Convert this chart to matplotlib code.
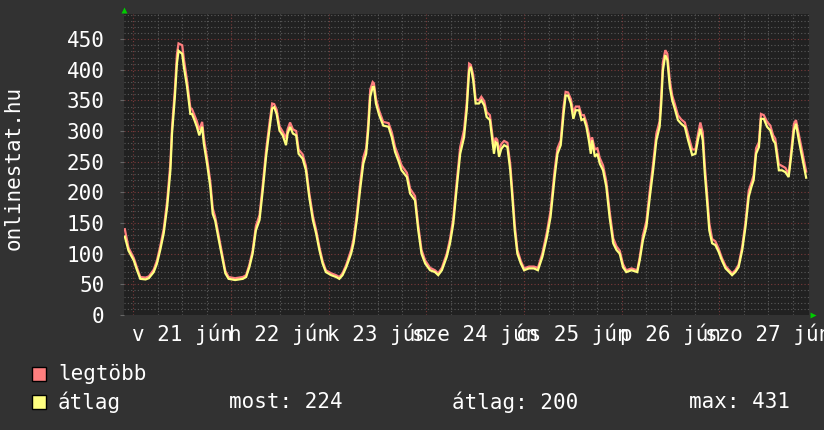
"""
Weekly visitor graph (rrdtool style) for onlinestat.hu.
"""

import matplotlib
matplotlib.use("Agg")
import matplotlib.pyplot as plt
from matplotlib.patches import Rectangle

# hours since 21 jún 00:00
hours = [
    -2.1, -1.2, 0.1, 0.9, 1.7, 3.0, 3.8, 5.0, 5.8, 6.6, 7.45, 8.3, 9.1, 9.5, 10.2, 10.7,
    11.1, 12.0, 12.4, 13.2, 14.0, 14.4, 15.0, 15.6, 16.2, 16.9, 17.3, 18.1, 18.9, 19.5,
    20.1, 21.0, 21.8, 22.6, 23.4, 25.0, 26.9, 27.7, 28.5, 29.3, 30.1, 31.0, 31.8, 32.6,
    33.4, 34.1, 34.6, 35.2, 35.9, 36.7, 37.5, 37.9, 38.5, 39.2, 40.0, 40.6, 41.6, 42.4,
    43.2, 44.1, 44.9, 45.7, 46.5, 47.3, 48.6, 49.8, 50.6, 51.4, 52.3, 53.5, 54.1, 54.9,
    55.7, 56.5, 57.2, 57.7, 58.2, 58.8, 59.1, 59.6, 60.4, 61.4, 62.7, 63.5, 64.3, 65.1,
    65.9, 67.2, 68.0, 69.2, 70.0, 70.8, 71.7, 72.9, 74.1, 74.9, 75.8, 77.0, 77.8, 78.6,
    79.4, 80.3, 81.25, 81.9, 82.5, 82.9, 83.5, 84.1, 84.9, 85.5, 86.2, 86.8, 87.6, 88.2,
    88.6, 89.0, 89.4, 89.85, 90.4, 91.1, 91.9, 92.6, 93.1, 93.7, 94.35, 95.2, 96.0, 97.2,
    98.4, 99.4, 100.5, 101.6, 102.5, 103.5, 104.2, 105.0, 105.7, 106.2, 106.8, 107.5,
    108.1, 108.7, 109.5, 110.1, 110.7, 111.3, 111.9, 112.4, 112.7, 113.4, 114.0, 114.6,
    115.4, 116.2, 117.0, 117.9, 118.7, 119.5, 120.3, 121.1, 122.4, 123.8, 124.4, 125.2,
    126.05, 126.9, 127.7, 128.5, 129.3, 129.7, 130.1, 130.7, 131.2, 131.8, 132.4, 133.0,
    133.8, 134.6, 135.5, 136.3, 137.3, 138.1, 138.7, 139.3, 139.9, 140.4, 141.0, 141.5,
    142.2, 143.0, 143.8, 144.6, 145.5, 146.4, 147.1, 147.9, 148.7, 149.6, 150.4, 151.2,
    151.85, 152.4, 153.0, 153.7, 154.2, 154.9, 155.7, 156.5, 157.2, 157.7, 158.6, 159.4,
    160.2, 161.0, 161.6, 162.3, 162.8, 163.5, 164.3, 165.3,
]

atlag = [
    128, 105, 89, 73, 59, 58, 60, 70, 84, 106, 133, 176, 236, 296, 356, 410,
    431, 426, 405, 372, 328, 328, 318, 307, 293, 307, 280, 247, 209, 165,
    154, 122, 95, 68, 59, 57, 59, 62, 78, 100, 138, 155, 204, 258,
    301, 337, 339, 328, 301, 293, 277, 296, 307, 296, 293, 263, 255, 236,
    193, 155, 133, 106, 84, 70, 65, 62, 59, 65, 78, 100, 117, 155,
    204, 247, 263, 301, 356, 372, 372, 345, 326, 309, 307, 290, 266, 252,
    236, 225, 198, 187, 138, 100, 84, 73, 70, 65, 73, 95, 117, 149,
    204, 263, 290, 334, 399, 405, 383, 345, 345, 350, 342, 323, 318, 285,
    263, 282, 280, 258, 271, 277, 274, 236, 193, 138, 100, 84, 73, 76,
    76, 73, 95, 127, 160, 225, 263, 277, 328, 358, 358, 345,
    320, 334, 334, 318, 320, 307, 285, 263, 285, 258, 263, 247,
    236, 209, 160, 117, 106, 100, 78, 70, 73, 70, 89, 122,
    144, 193, 236, 285, 307, 345, 399, 424, 416, 372, 350, 337,
    318, 312, 307, 285, 261, 263, 285, 304, 285, 231, 182, 138,
    117, 114, 103, 89, 76, 70, 65, 70, 78, 106, 144, 193,
    209, 220, 263, 274, 320, 320, 307, 301, 285, 280, 236, 236,
    233, 225, 258, 301, 312, 285, 258, 224,
]

legtobb = [
    140, 110, 93, 77, 62, 61, 63, 74, 89, 112, 140, 186, 248, 306, 368, 425,
    443, 440, 418, 382, 338, 336, 326, 316, 302, 315, 290, 256, 218, 174,
    160, 128, 100, 72, 62, 60, 62, 65, 82, 105, 145, 163, 213, 268,
    311, 345, 344, 335, 308, 299, 288, 303, 314, 303, 300, 270, 262, 243,
    200, 162, 139, 111, 88, 73, 68, 65, 62, 68, 82, 106, 124, 164,
    214, 257, 272, 312, 368, 380, 378, 353, 333, 315, 313, 298, 274, 260,
    244, 232, 206, 194, 146, 106, 89, 77, 73, 68, 77, 100, 124, 158,
    214, 274, 302, 346, 410, 408, 392, 352, 350, 356, 349, 331, 326, 294,
    275, 289, 286, 268, 279, 284, 281, 246, 203, 148, 106, 88, 76, 79,
    79, 77, 101, 135, 170, 236, 272, 285, 340, 364, 363, 352,
    330, 340, 340, 326, 326, 314, 296, 275, 290, 270, 272, 256,
    244, 218, 170, 125, 112, 105, 83, 73, 76, 73, 94, 130,
    153, 204, 247, 296, 316, 358, 412, 432, 426, 383, 358, 345,
    326, 319, 314, 294, 270, 270, 294, 314, 298, 244, 194, 150,
    124, 120, 108, 93, 80, 73, 68, 73, 82, 112, 152, 203,
    216, 228, 272, 282, 328, 326, 315, 309, 293, 288, 246, 243,
    240, 230, 266, 312, 318, 295, 268, 234,
]

day_labels = ["v 21 jún", "h 22 jún", "k 23 jún", "sze 24 jún",
              "cs 25 jún", "p 26 jún", "szo 27 jún"]
y_ticks = list(range(0, 500, 50))
stats = ["most: 224", "átlag: 200", "max: 431"]

BG = "#323232"
CANVAS = "#212121"
FONT = "DejaVu Sans Mono"
FS = 15

W, H = 824, 430
fig = plt.figure(figsize=(W / 100, H / 100), dpi=100, facecolor=BG)
ax = fig.add_axes([124 / W, 1 - 315 / H, 685 / W, 301 / H], facecolor=CANVAS)

x_lo, x_hi = -2.3, 166.0
ax.set_xlim(x_lo, x_hi)
ax.set_ylim(0, 491)

# grid: grey minor, red major (dotted like rrdtool)
dots = (0, (1, 2))
for v in range(10, 491, 10):
    col = "#7a3a3a" if v % 50 == 0 else "#5a5a5a"
    ax.axhline(v, color=col, lw=0.8, ls=dots, zorder=1)
for h in range(0, 167, 6):
    col = "#7a3a3a" if h % 24 == 0 else "#5a5a5a"
    ax.axvline(h, color=col, lw=0.8, ls=dots, zorder=1)

ax.plot(hours, legtobb, color="#ff7f7f", lw=1.6, zorder=3, solid_joinstyle="miter")
ax.plot(hours, atlag, color="#ffff80", lw=1.6, zorder=4, solid_joinstyle="miter")

for s in ax.spines.values():
    s.set_visible(False)

ax.set_yticks(y_ticks)
ax.set_yticklabels([str(v) for v in y_ticks], fontfamily=FONT, fontsize=FS, color="white")
ax.set_xticks([12 + 24 * i for i in range(len(day_labels))])
ax.set_xticklabels(day_labels, fontfamily=FONT, fontsize=FS, color="white")
ax.tick_params(axis="y", length=3, width=0.8, color="#666666", pad=11)
ax.tick_params(axis="x", length=0, pad=6)

# green arrows at axis ends
ax.plot([x_lo], [1.013], marker="^", ms=5, color="#00cc00", mec="none",
        transform=ax.get_xaxis_transform(), clip_on=False)
ax.plot([1.006], [0], marker=">", ms=5, color="#00cc00", mec="none",
        transform=ax.get_yaxis_transform(), clip_on=False)

fig.text(14 / W, 1 - 168 / H, "onlinestat.hu", rotation=90, ha="center", va="center",
         fontfamily=FONT, fontsize=FS, color="white")

# legend
for yc, col, name in [(374, "#ff7f7f", "legtöbb"), (402, "#ffff80", "átlag")]:
    fig.patches.append(Rectangle((32 / W, 1 - (yc + 7) / H), 14 / W, 14 / H,
                                 transform=fig.transFigure, facecolor=col,
                                 edgecolor="black", lw=1))
    fig.text(58 / W, 1 - yc / H, name, ha="left", va="center",
             fontfamily=FONT, fontsize=FS, color="white")
for xs, txt in zip([229, 452, 689], stats):
    fig.text(xs / W, 1 - 402 / H, txt, ha="left", va="center",
             fontfamily=FONT, fontsize=FS, color="white")

fig.savefig("out.png", dpi=100, facecolor=BG)
